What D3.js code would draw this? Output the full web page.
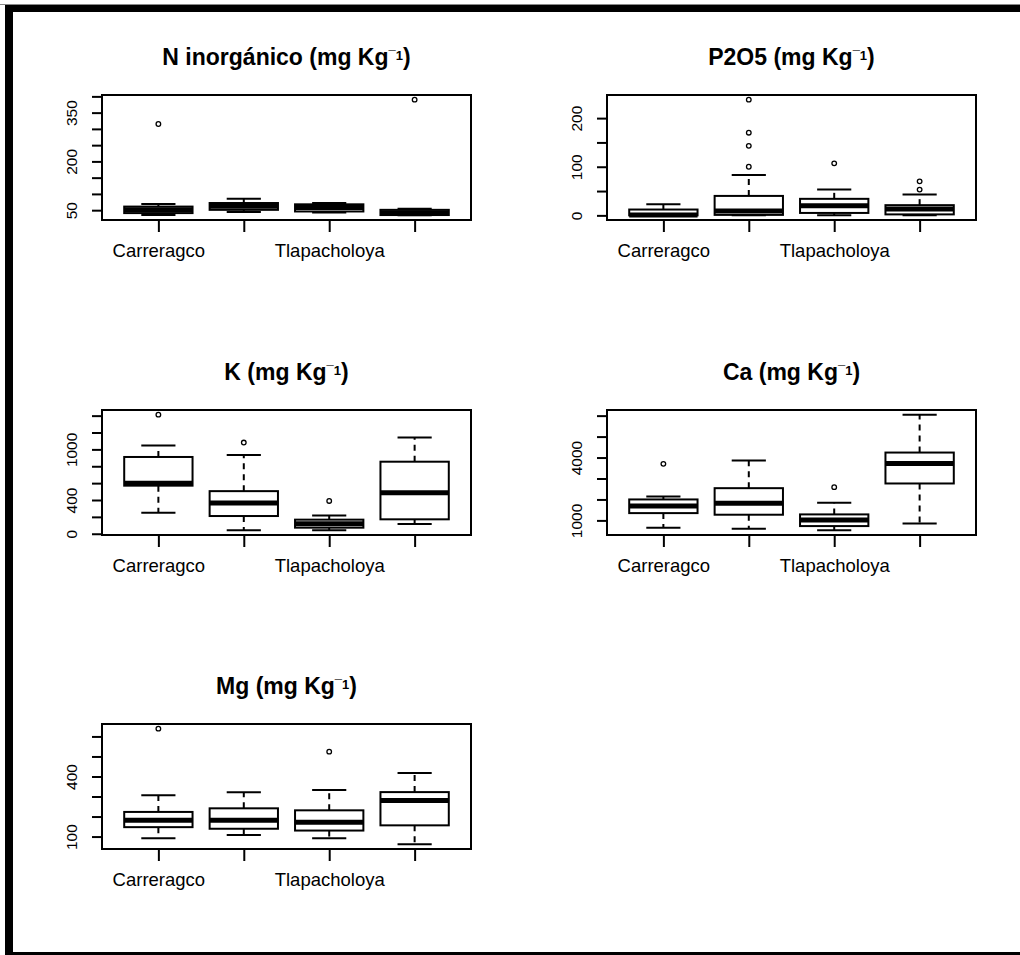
<!DOCTYPE html>
<html>
<head>
<meta charset="utf-8">
<script src="https://cdn.jsdelivr.net/npm/d3@7"></script>
<style>
  html, body { margin: 0; padding: 0; background: #fff; }
  svg { display: block; font-family: "Liberation Sans", Arial, sans-serif; }
</style>
</head>
<body>
<script>
// Group labels on the x axis (every other label is left out, as drawn)
const groupLabels = ["Carreragco", "", "Tlapacholoya", ""];

// Panel titles
const titles = ["N inorgánico", "P2O5", "K", "Ca", "Mg"];

// Five-number summaries per group: [lower whisker, Q1, median, Q3, upper whisker]
const nInorganico = [[35, 41, 51, 61, 69], [44, 51, 62, 72, 85], [43, 46, 58, 68, 72], [34, 35, 42, 51, 54]];
const nInorganicoOut = [[315], [], [], [390]];

const p2o5 = [[0, 0, 1, 12, 23], [0, 1, 9, 40, 83], [0, 5, 20, 34, 53], [0, 2, 13, 21, 43]];
const p2o5Out = [[], [100, 143, 170, 238], [107], [53, 70]];

const potasio = [[250, 570, 600, 910, 1046], [40, 210, 365, 505, 934], [40, 72, 119, 167, 215], [115, 171, 485, 854, 1141]];
const potasioOut = [[1412], [1081], [389], []];

const calcio = [[652, 1348, 1683, 2000, 2143], [605, 1271, 1824, 2538, 3857], [524, 729, 1016, 1286, 1843], [857, 2762, 3714, 4238, 6048]];
const calcioOut = [[3700], [], [2586], []];

const magnesio = [[91, 147, 182, 223, 306], [108, 139, 182, 241, 321], [91, 130, 172, 231, 332], [61, 156, 280, 322, 418]];
const magnesioOut = [[639], [], [524], []];

// Y-axis tick values and the subset that carries a label
const nTicks = [50, 100, 150, 200, 250, 300, 350, 400], nLabels = [50, 200, 350];
const pTicks = [0, 50, 100, 150, 200], pLabels = [0, 100, 200];
const kTicks = [0, 200, 400, 600, 800, 1000, 1200, 1400], kLabels = [0, 400, 1000];
const caTicks = [1000, 2000, 3000, 4000, 5000, 6000], caLabels = [1000, 4000];
const mgTicks = [100, 200, 300, 400, 500, 600], mgLabels = [100, 400];

const panels = [
  { title: titles[0], stats: nInorganico, out: nInorganicoOut, ticks: nTicks, labels: nLabels, col: 0, row: 0 },
  { title: titles[1], stats: p2o5, out: p2o5Out, ticks: pTicks, labels: pLabels, col: 1, row: 0 },
  { title: titles[2], stats: potasio, out: potasioOut, ticks: kTicks, labels: kLabels, col: 0, row: 1 },
  { title: titles[3], stats: calcio, out: calcioOut, ticks: caTicks, labels: caLabels, col: 1, row: 1 },
  { title: titles[4], stats: magnesio, out: magnesioOut, ticks: mgTicks, labels: mgLabels, col: 0, row: 2 }
];

const W = 1020, H = 955;
const colX = [102, 607];
const rowY = [95, 410, 724];
const pw = 369, ph = 125;

const svg = d3.select("body").append("svg").attr("width", W).attr("height", H);
svg.append("rect").attr("width", W).attr("height", H).attr("fill", "#fff");

// outer black frame
svg.append("rect").attr("x", 0).attr("y", 4).attr("width", W).attr("height", 1).attr("fill", "#888");
svg.append("rect").attr("x", 5).attr("y", 5).attr("width", W - 5).attr("height", 7).attr("fill", "#000");
svg.append("rect").attr("x", 5).attr("y", 5).attr("width", 8).attr("height", H - 5).attr("fill", "#000");
svg.append("rect").attr("x", 5).attr("y", 952).attr("width", W - 5).attr("height", 3).attr("fill", "#000");

panels.forEach(p => {
  const left = colX[p.col], top = rowY[p.row];
  const g = svg.append("g");

  // y range: data extent padded by 4% on each side
  const allVals = p.stats.flat().concat(p.out.flat());
  const mn = d3.min(allVals), mx = d3.max(allVals), pad = 0.04 * (mx - mn);
  const y = d3.scaleLinear().domain([mn - pad, mx + pad]).range([top + ph, top]);
  const n = p.stats.length;
  const x = d3.scaleLinear().domain([0.5 - 0.04 * n, n + 0.5 + 0.04 * n]).range([left, left + pw]);
  const halfBox = 0.4, halfCap = 0.2;

  // title with superscript exponent
  const t = g.append("text")
    .attr("x", left + pw / 2).attr("y", top - 30.5)
    .attr("text-anchor", "middle")
    .attr("font-weight", "bold").attr("font-size", 23);
  t.append("tspan").text(p.title + " (mg Kg");
  t.append("tspan").attr("font-size", 13).attr("dy", -4.5).text("¯1");
  t.append("tspan").attr("font-size", 23).attr("dy", 4.5).text(")");

  // boxes
  p.stats.forEach((s, i) => {
    const cx = i + 1;
    const [lo, q1, med, q3, hi] = s;
    const bg = g.append("g").attr("stroke", "#000").attr("fill", "none");
    // whiskers
    bg.append("line").attr("x1", x(cx)).attr("x2", x(cx)).attr("y1", y(q3)).attr("y2", y(hi))
      .attr("stroke-width", 2).attr("stroke-dasharray", "6,5");
    bg.append("line").attr("x1", x(cx)).attr("x2", x(cx)).attr("y1", y(q1)).attr("y2", y(lo))
      .attr("stroke-width", 2).attr("stroke-dasharray", "6,5");
    // staples
    [lo, hi].forEach(v => {
      bg.append("line").attr("x1", x(cx - halfCap)).attr("x2", x(cx + halfCap))
        .attr("y1", y(v)).attr("y2", y(v)).attr("stroke-width", 2);
    });
    // box
    bg.append("rect").attr("x", x(cx - halfBox)).attr("y", y(q3))
      .attr("width", x(cx + halfBox) - x(cx - halfBox)).attr("height", y(q1) - y(q3))
      .attr("stroke-width", 2);
    // median
    bg.append("line").attr("x1", x(cx - halfBox)).attr("x2", x(cx + halfBox))
      .attr("y1", y(med)).attr("y2", y(med)).attr("stroke-width", 5);
    // outliers
    p.out[i].forEach(v => {
      bg.append("circle").attr("cx", x(cx)).attr("cy", y(v)).attr("r", 2.3).attr("stroke-width", 1.3);
    });
  });

  // plot frame
  g.append("rect").attr("x", left).attr("y", top).attr("width", pw).attr("height", ph)
    .attr("fill", "none").attr("stroke", "#000").attr("stroke-width", 2);

  // y axis
  const ya = g.append("g").attr("transform", `translate(${left},0)`)
    .call(d3.axisLeft(y).tickValues(p.ticks).tickSize(10).tickSizeOuter(0)
      .tickFormat(d => p.labels.includes(d) ? d : ""));
  ya.select(".domain").remove();
  ya.append("line").attr("x1", 0).attr("x2", 0)
    .attr("y1", y(p.ticks[0])).attr("y2", y(p.ticks[p.ticks.length - 1]))
    .attr("stroke", "#000").attr("stroke-width", 2);
  ya.selectAll(".tick line").attr("stroke", "#000").attr("stroke-width", 2);
  ya.selectAll(".tick text")
    .attr("x", null).attr("dy", null).attr("y", null)
    .attr("transform", "translate(-25.5,0) rotate(-90)")
    .attr("text-anchor", "middle")
    .attr("font-size", 15.5).attr("fill", "#000").attr("font-family", null);

  // x axis
  const xa = g.append("g").attr("transform", `translate(0,${top + ph})`)
    .call(d3.axisBottom(x).tickValues(d3.range(1, n + 1)).tickSize(12).tickSizeOuter(0)
      .tickFormat((d, i) => groupLabels[i]));
  xa.select(".domain").remove();
  xa.append("line").attr("x1", x(1)).attr("x2", x(n)).attr("y1", 0).attr("y2", 0)
    .attr("stroke", "#000").attr("stroke-width", 2);
  xa.selectAll(".tick line").attr("stroke", "#000").attr("stroke-width", 2);
  xa.selectAll(".tick text").attr("y", 37).attr("dy", null)
    .attr("font-size", 18.5).attr("fill", "#000").attr("font-family", null);
});
</script>
</body>
</html>
